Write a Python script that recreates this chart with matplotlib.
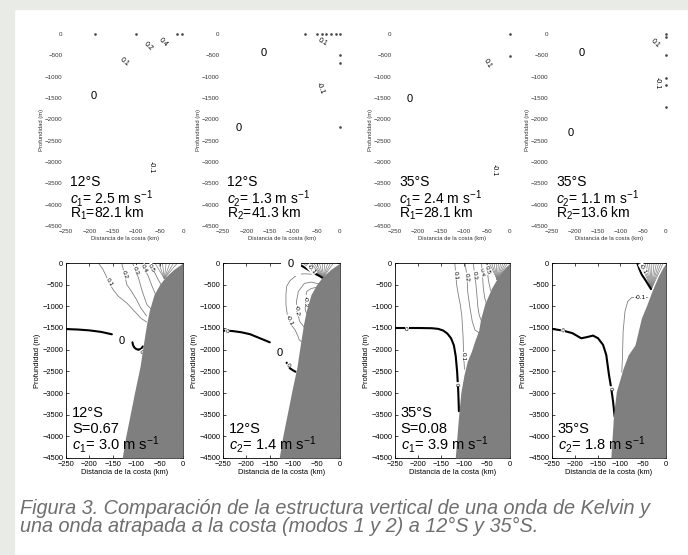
import matplotlib
matplotlib.use('Agg')
import matplotlib.pyplot as plt
from matplotlib.patches import Rectangle

W, H = 688, 555

plt.rcParams['font.family'] = ['Liberation Sans', 'DejaVu Sans']
plt.rcParams['mathtext.fontset'] = 'custom'
plt.rcParams['mathtext.rm'] = 'Liberation Sans'
plt.rcParams['mathtext.it'] = 'Liberation Sans:italic'

# --- axis ticks -------------------------------------------------------------
x_ticks = [-250, -200, -150, -100, -50, 0]
z_ticks = [0, -500, -1000, -1500, -2000, -2500, -3000, -3500, -4000, -4500]

# --- shelf / slope topography (km offshore, depth m) ------------------------
land12_x = [0, -8, -20, -38, -50, -62, -72, -78, -85, -92, -103, -113, -123, -130]
land12_z = [0, -60, -150, -330, -500, -730, -1100, -1420, -1900, -2400, -2960, -3500, -4040, -4500]
land35a_x = [0, -10, -22, -40, -55, -64, -68, -76, -84, -93, -100, -107, -111, -115, -119]
land35a_z = [0, -100, -250, -580, -950, -1300, -1550, -1780, -2040, -2270, -2580, -3000, -3450, -3950, -4500]
land35b_x = [0, -8, -17, -31, -42, -54, -61, -68, -83, -94, -109, -115, -118, -121]
land35b_z = [0, -130, -309, -656, -965, -1273, -1582, -1891, -2122, -2431, -2972, -3500, -4000, -4500]

# --- 12S, mode 1 ---------------------------------------------------------------
p1_c01_x = [-181, -172, -165, -157, -149, -138, -120, -103, -90, -78]
p1_c01_z = [0, -130, -280, -480, -620, -770, -925, -1120, -1275, -1360]
p1_c02_x = [-131, -127, -120, -110, -99, -90, -78]
p1_c02_z = [0, -170, -500, -656, -850, -1040, -1220]
p1_c03_x = [-108, -101, -95, -87, -77, -68]
p1_c03_z = [0, -180, -350, -656, -965, -1060]
p1_c04_x = [-87, -82, -74, -66, -58]
p1_c04_z = [0, -130, -310, -540, -740]
p1_c05_x = [-70, -66, -60, -53, -46]
p1_c05_z = [0, -115, -230, -386, -510]
p1_fan_x = [-60, -52, -44, -36, -28, -20, -12]
p1_fan_end = (-40, -360)
p1_zero_a_x = [-250, -225, -200, -175, -152]
p1_zero_a_z = [-1525, -1535, -1555, -1590, -1645]
p1_zero_b_x = [-108, -107, -104, -100, -96, -92, -88, -86]
p1_zero_b_z = [-1830, -1890, -1950, -1985, -2000, -1995, -1965, -1925]
p1_zero_c_x = [-94, -92, -90]
p1_zero_c_z = [-1995, -2030, -2070]
p1_lab_txt = ['0.1', '0.2', '0.3', '0.4', '0.5', '0']
p1_lab_x = [-158, -124, -101, -83, -67, -89]
p1_lab_z = [-450, -270, -170, -130, -110, -2050]
p1_lab_rot = [-60, -70, -70, -65, -60, -60]
p1_big0_x = [-131]
p1_big0_z = [-1800]

# --- 12S, mode 2 ---------------------------------------------------------------
p2_m01_x = [-40, -55, -75, -88, -96, -107, -114, -115.5, -115.5, -112.5, -107, -96, -91, -87, -80]
p2_m01_z = [-330, -260, -250, -255, -309, -409, -540, -733, -965, -1196, -1389, -1544, -1660, -1775, -1830]
p2_m02_x = [-46, -62, -76, -89, -93, -92, -86, -76]
p2_m02_z = [-480, -440, -470, -656, -888, -1119, -1350, -1490]
p2_m03_x = [-50, -62, -71, -75, -74, -68]
p2_m03_z = [-560, -590, -656, -888, -1100, -1230]
p2_fan_x = [-80, -74, -68, -62, -56, -50, -44, -38, -32, -26, -20, -14]
p2_fan_end = (-36, -340)
p2_zero_a_x = [-250, -230, -210, -192, -171, -150]
p2_zero_a_z = [-1560, -1570, -1600, -1644, -1737, -1830]
p2_zero_b_x = [-114, -111, -107, -100, -95]
p2_zero_b_z = [-2300, -2370, -2430, -2480, -2510]
p2_zero_c_x = [-84, -75, -64, -52, -42, -34]
p2_zero_c_z = [-50, -110, -180, -250, -310, -370]
p2_lab_txt = ['-0.1', '-0.2', '-0.3', '0', '0', '-0.1']
p2_lab_x = [-108, -92, -75, -241, -111, -61]
p2_lab_z = [-1320, -1100, -880, -1585, -2370, -150]
p2_lab_rot = [-65, -85, -90, -3, -50, -50]
p2_big0_x = [-128, -105]
p2_big0_z = [-2084, -20]

# --- 35S, mode 1 ---------------------------------------------------------------
p3_c01_x = [-120, -118, -116, -112, -108, -105, -103.5, -102, -101.5, -100.5, -99]
p3_c01_z = [0, -250, -500, -750, -965, -1200, -1427, -1700, -1890, -2150, -2450]
p3_c02_x = [-98, -95, -93, -92, -87, -82, -76, -67]
p3_c02_z = [0, -200, -400, -656, -1040, -1350, -1550, -1610]
p3_c03_x = [-80, -77, -74, -72, -70, -67, -62]
p3_c03_z = [0, -250, -500, -733, -1000, -1200, -1340]
p3_c04_x = [-62, -60, -58, -55, -51]
p3_c04_z = [0, -250, -580, -800, -960]
p3_c05_x = [-51, -49, -47, -42]
p3_c05_z = [0, -200, -400, -640]
p3_fan_x = [-45, -40, -35, -30, -25, -20, -15, -10, -5]
p3_fan_end = (-28, -380)
p3_zero_a_x = [-250, -200, -170, -156, -145, -136, -128, -122, -118, -115, -112.5, -111]
p3_zero_a_z = [-1500, -1500, -1505, -1520, -1560, -1630, -1740, -1900, -2150, -2500, -2960, -3420]
p3_lab_txt = ['0.1', '0.2', '0.3', '0.4', '0.5', '0.1', '0', '0']
p3_lab_x = [-118, -94, -76, -60, -50, -101, -224, -117]
p3_lab_z = [-280, -330, -280, -220, -160, -2160, -1530, -2800]
p3_lab_rot = [-85, -85, -85, -80, -75, -90, 0, -85]

# --- 35S, mode 2 ---------------------------------------------------------------
p4_m01_x = [-40, -60, -75, -84, -90, -94, -95.6, -97]
p4_m01_z = [-795, -795, -795, -888, -1119, -1582, -2200, -2520]
p4_fan_x = [-56, -51, -46, -41, -36, -31, -26, -21, -16, -11, -6]
p4_fan_end = (-32, -600)
p4_zero_a_x = [-250, -226, -205, -186, -175, -160, -149, -138, -131, -125, -120, -116, -112.5]
p4_zero_a_z = [-1520, -1560, -1620, -1737, -1714, -1675, -1737, -1890, -2122, -2586, -2900, -3203, -3550]
p4_zero_b_x = [-63, -58, -53, -46, -40, -33]
p4_zero_b_z = [0, -150, -270, -380, -480, -600]
p4_lab_txt = ['0', '0', '-0.1']
p4_lab_x = [-226, -123, -50]
p4_lab_z = [-1560, -2895, -130]
p4_lab_rot = [-8, -85, -60]
p4_box_txt = ['-0.1']
p4_box_x = [-57]
p4_box_z = [-795]

# --- panel annotations -----------------------------------------------------
bot_notes = [
    ['12°S', 'S=0.67', r'$c_1$= 3.0 m s$^{-1}$'],
    ['12°S', r'$c_2$= 1.4 m s$^{-1}$'],
    ['35°S', 'S=0.08', r'$c_1$= 3.9 m s$^{-1}$'],
    ['35°S', r'$c_2$= 1.8 m s$^{-1}$'],
]
top_notes = [
    ['12°S', r'$c_1$= 2.5 m s$^{-1}$', r'R$_1$=82.1 km'],
    ['12°S', r'$c_2$= 1.3 m s$^{-1}$', r'R$_2$=41.3 km'],
    ['35°S', r'$c_1$= 2.4 m s$^{-1}$', r'R$_1$=28.1 km'],
    ['35°S', r'$c_2$= 1.1 m s$^{-1}$', r'R$_2$=13.6 km'],
]

# eigenfunction sketches in the upper row (label text and position only)
t1_txt = ['0.4', '0.2', '0.1', '0', '-0.1']
t1_x = [-43, -75, -126, -190, -68]
t1_z = [-187, -281, -656, -1453, -3117]
t1_rot = [-45, -45, -40, 0, -90]
t1_dot_x = [-188, -100, -13, -2]
t1_dot_z = [0, 0, 0, 0]

t2_txt = ['0', '0.1', '-0.1', '0']
t2_x = [-162, -36, -43, -216]
t2_z = [-445, -187, -1265, -2203]
t2_rot = [0, -30, -70, 0]
t2_dot_x = [-75, -49, -39, -29, -19, -9, 0, 0, 0, 0]
t2_dot_z = [0, 0, 0, 0, 0, 0, 0, -492, -680, -2180]

t3_txt = ['0', '0.1', '-0.1']
t3_x = [-217, -50, -35]
t3_z = [-1523, -680, -3187]
t3_rot = [0, -60, -90]
t3_dot_x = [0, 0]
t3_dot_z = [0, -515]

t4_txt = ['0', '0', '0.1', '-0.1']
t4_x = [-185, -210, -23, -19]
t4_z = [-452, -2313, -218, -1155]
t4_rot = [0, 0, -45, -90]
t4_dot_x = [0, 0, 0, 0, 0, 0]
t4_dot_z = [0, -63, -492, -1030, -1195, -1704]

caption = ["Figura 3. Comparación de la estructura vertical de una onda de Kelvin y",
           "una onda atrapada a la costa (modos 1 y 2) a 12°S y 35°S."]

LAND = '#7f7f7f'
THIN = '#808080'

panel_left = [66, 223, 395, 552]
panel_width = [117, 117, 115, 114]


def px_axes(fig, left, top, width, height):
    return fig.add_axes([left / W, 1 - (top + height) / H, width / W, height / H])


def section(ax, land_x, land_z, thin, thick, fan_x, fan_end):
    ax.fill_betweenx(land_z, land_x, 0, color=LAND, lw=0, zorder=3)
    for xs, zs in thin:
        ax.plot(xs, zs, color=THIN, lw=0.6, zorder=2)
    for x0 in fan_x:
        ax.plot([x0, fan_end[0]], [0, fan_end[1]], color=THIN, lw=0.5, zorder=2)
    for xs, zs in thick:
        ax.plot(xs, zs, color='black', lw=1.5, zorder=2.5, solid_capstyle='round')
    ax.set_xlim(-250, 0)
    ax.set_ylim(-4500, 0)
    ax.set_xticks(x_ticks)
    ax.set_yticks(z_ticks)
    ax.tick_params(direction='in', length=2, width=0.5, labelsize=5.4, pad=2,
                   top=True, right=True)
    for s in ax.spines.values():
        s.set_linewidth(0.6)
    ax.set_xlabel('Distancia de la costa (km)', fontsize=5.4, labelpad=1)
    ax.set_ylabel('Profundidad (m)', fontsize=5.4, labelpad=1)


def clabels(ax, txt, xs, zs, rots):
    for t, x, z, r in zip(txt, xs, zs, rots):
        ax.text(x, z, t, fontsize=4.6, rotation=r, ha='center', va='center', zorder=2.9,
                rotation_mode='anchor',
                bbox=dict(boxstyle='square,pad=0.05', fc='white', ec='none'))


def notes(ax, lines, rows, size, x0):
    for line, y in zip(lines, rows):
        ax.text(x0, y, line, transform=ax.transAxes, fontsize=size, va='center',
                ha='left', zorder=5)


fig = plt.figure(figsize=(W / 100, H / 100), dpi=100, facecolor='white')
fig.patches.append(Rectangle((0, 0), 14 / W, 1, transform=fig.transFigure,
                             color='#e9ebe6', zorder=0))
fig.patches.append(Rectangle((0, 1 - 9 / H), 1, 9 / H, transform=fig.transFigure,
                             color='#e9ebe6', zorder=0))

# upper row: mode structure sketches
top_labels = [(t1_txt, t1_x, t1_z, t1_rot, t1_dot_x, t1_dot_z),
              (t2_txt, t2_x, t2_z, t2_rot, t2_dot_x, t2_dot_z),
              (t3_txt, t3_x, t3_z, t3_rot, t3_dot_x, t3_dot_z),
              (t4_txt, t4_x, t4_z, t4_rot, t4_dot_x, t4_dot_z)]
for i, (txt, xs, zs, rots, dx, dz) in enumerate(top_labels):
    ax = px_axes(fig, panel_left[i], 34, panel_width[i], 192)
    ax.set_xlim(-250, 0)
    ax.set_ylim(-4500, 0)
    ax.set_xticks(x_ticks)
    ax.set_yticks(z_ticks)
    ax.tick_params(length=0, labelsize=4.5, pad=2.5, colors='#333333')
    for s in ax.spines.values():
        s.set_visible(False)
    ax.set_xlabel('Distancia de la costa (km)', fontsize=4.2, labelpad=1, color='#333333')
    ax.set_ylabel('Profundidad (m)', fontsize=4.2, labelpad=1, color='#333333')
    ax.plot(dx, dz, ls='none', marker='s', ms=0.8, color='#444444', clip_on=False)
    for t, x, z, r in zip(txt, xs, zs, rots):
        big = t == '0'
        ax.text(x, z, t, fontsize=8 if big else 5, rotation=r, ha='center', va='center')
    notes(ax, top_notes[i], [0.229, 0.145, 0.064], 10.0, 0.035)

# lower row: coastal-trapped wave sections
ax1 = px_axes(fig, panel_left[0], 263, panel_width[0], 195)
section(ax1, land12_x, land12_z,
        [(p1_c01_x, p1_c01_z), (p1_c02_x, p1_c02_z), (p1_c03_x, p1_c03_z),
         (p1_c04_x, p1_c04_z), (p1_c05_x, p1_c05_z)],
        [(p1_zero_a_x, p1_zero_a_z), (p1_zero_b_x, p1_zero_b_z), (p1_zero_c_x, p1_zero_c_z)],
        p1_fan_x, p1_fan_end)
clabels(ax1, p1_lab_txt, p1_lab_x, p1_lab_z, p1_lab_rot)
for x, z in zip(p1_big0_x, p1_big0_z):
    ax1.text(x, z, '0', fontsize=8, ha='center', va='center', zorder=4)

ax2 = px_axes(fig, panel_left[1], 263, panel_width[1], 195)
section(ax2, land12_x, land12_z,
        [(p2_m01_x, p2_m01_z), (p2_m02_x, p2_m02_z), (p2_m03_x, p2_m03_z)],
        [(p2_zero_a_x, p2_zero_a_z), (p2_zero_b_x, p2_zero_b_z), (p2_zero_c_x, p2_zero_c_z)],
        p2_fan_x, p2_fan_end)
clabels(ax2, p2_lab_txt, p2_lab_x, p2_lab_z, p2_lab_rot)
ax2.text(p2_big0_x[0], p2_big0_z[0], '0', fontsize=8, ha='center', va='center', zorder=4)
ax2.text(p2_big0_x[1], p2_big0_z[1], '0', fontsize=8, ha='center', va='center', zorder=6,
         clip_on=False, bbox=dict(boxstyle='square,pad=0.6', fc='white', ec='none'))

ax3 = px_axes(fig, panel_left[2], 263, panel_width[2], 195)
section(ax3, land35a_x, land35a_z,
        [(p3_c01_x, p3_c01_z), (p3_c02_x, p3_c02_z), (p3_c03_x, p3_c03_z),
         (p3_c04_x, p3_c04_z), (p3_c05_x, p3_c05_z)],
        [(p3_zero_a_x, p3_zero_a_z)],
        p3_fan_x, p3_fan_end)
clabels(ax3, p3_lab_txt, p3_lab_x, p3_lab_z, p3_lab_rot)

ax4 = px_axes(fig, panel_left[3], 263, panel_width[3], 195)
section(ax4, land35b_x, land35b_z,
        [(p4_m01_x, p4_m01_z)],
        [(p4_zero_a_x, p4_zero_a_z), (p4_zero_b_x, p4_zero_b_z)],
        p4_fan_x, p4_fan_end)
clabels(ax4, p4_lab_txt, p4_lab_x, p4_lab_z, p4_lab_rot)
clabels(ax4, p4_box_txt, p4_box_x, p4_box_z, [0])

for ax, lines in zip([ax1, ax2, ax3, ax4], bot_notes):
    rows = [0.231, 0.149, 0.067][-len(lines):]
    notes(ax, lines, rows, 10.5, 0.05)

fig.text(20 / W, 1 - 514 / H, caption[0], fontsize=14.3, style='italic',
         color='#6e6e6e', va='baseline')
fig.text(20 / W, 1 - 532 / H, caption[1], fontsize=14.3, style='italic',
         color='#6e6e6e', va='baseline')

fig.savefig('out.png', dpi=100, facecolor='white')
